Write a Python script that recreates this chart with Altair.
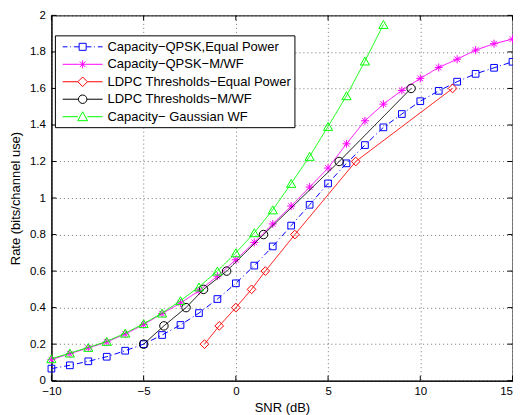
import altair as alt
import pandas as pd

# ---------------- data ----------------
series_names = [
    "Capacity−QPSK,Equal Power",
    "Capacity−QPSK−M/WF",
    "LDPC Thresholds−Equal Power",
    "LDPC Thresholds−M/WF",
    "Capacity− Gaussian WF",
]
series_colors = ["#0000ff", "#ff00ff", "#ff0000", "#000000", "#00ff00"]

snr_qpsk = list(range(-10, 16))
rate_qpsk_eq = [0.066, 0.084, 0.106, 0.131, 0.164, 0.200, 0.250, 0.305, 0.370, 0.447,
                0.533, 0.630, 0.735, 0.849, 0.963, 1.080, 1.190, 1.290, 1.387, 1.460,
                1.530, 1.587, 1.637, 1.680, 1.713, 1.746]
rate_qpsk_mwf = [0.115, 0.148, 0.179, 0.212, 0.255, 0.307, 0.367, 0.425, 0.492, 0.572,
                 0.662, 0.757, 0.858, 0.956, 1.060, 1.164, 1.297, 1.423, 1.514, 1.589,
                 1.655, 1.715, 1.760, 1.810, 1.845, 1.870]

snr_gauss = list(range(-10, 9))
rate_gauss_wf = [0.120, 0.151, 0.182, 0.215, 0.260, 0.312, 0.370, 0.438, 0.513, 0.600,
                 0.700, 0.810, 0.935, 1.080, 1.228, 1.392, 1.560, 1.750, 1.950]

ldpc_rates = [0.2, 0.3, 0.4, 0.5, 0.6, 0.8, 1.2, 1.6]
snr_ldpc_eq = [-1.7, -0.9, 0.0, 0.85, 1.6, 3.2, 6.5, 11.75]
snr_ldpc_mwf = [-5.0, -3.9, -2.7, -1.75, -0.5, 1.5, 5.6, 9.5]

x_ticks = [-10, -5, 0, 5, 10, 15]
y_ticks = [0, 0.2, 0.4, 0.6, 0.8, 1.0, 1.2, 1.4, 1.6, 1.8, 2.0]

# ---------------- table ----------------
rows = []
for s, xs, ys in [
    (series_names[0], snr_qpsk, rate_qpsk_eq),
    (series_names[1], snr_qpsk, rate_qpsk_mwf),
    (series_names[2], snr_ldpc_eq, ldpc_rates),
    (series_names[3], snr_ldpc_mwf, ldpc_rates),
    (series_names[4], snr_gauss, rate_gauss_wf),
]:
    for x, y in zip(xs, ys):
        rows.append({"series": s, "snr": x, "rate": y})
df = pd.DataFrame(rows)

W, H = 462, 366
FONT = "Liberation Sans"

x_scale = alt.Scale(domain=[-10, 15], nice=False, zero=False)
y_scale = alt.Scale(domain=[0, 2], nice=False, zero=False)

x_axis = alt.Axis(
    values=x_ticks, tickCount=30, title="SNR (dB)", grid=True, ticks=False,
    labelFontSize=11.5, labelPadding=5, labelFlush=False,
    labelAlign={"condition": {"test": "datum.value == 15", "value": "right"}, "value": "center"},
    titleFontSize=13, titleFontWeight="normal", titleY=30.5, titleBaseline="alphabetic",
)
y_axis = alt.Axis(
    values=y_ticks, tickCount=30, format="~g", title="Rate (bits/channel use)", grid=True,
    ticks=False, labelFontSize=11.5, labelPadding=6, labelOverlap=False,
    titleFontSize=13, titleFontWeight="normal", titleX=-31.5, titleBaseline="alphabetic",
)

base = alt.Chart(df)

star_path = "M0,-1V1M-1,0H1M-0.7,-0.7L0.7,0.7M-0.7,0.7L0.7,-0.7"
marker_specs = [
    ("square", 45, [6, 3, 1, 3]),
    (star_path, 64, [1, 0]),
    ("diamond", 76, [1, 0]),
    ("circle", 72, [1, 0]),
    ("triangle-up", 84, [1, 0]),
]

data_layers = []
for i, (name, color) in enumerate(zip(series_names, series_colors)):
    shp, sz, dash = marker_specs[i]
    sub = base.transform_filter(alt.datum.series == name)
    enc_x = alt.X("snr:Q", scale=x_scale, axis=x_axis)
    enc_y = alt.Y("rate:Q", scale=y_scale, axis=y_axis)
    data_layers.append(
        sub.mark_line(strokeWidth=1, color=color, strokeDash=dash).encode(x=enc_x, y=enc_y)
    )
    data_layers.append(
        sub.mark_point(shape=shp, size=sz, filled=False, strokeWidth=1, opacity=1, color=color)
        .encode(x=enc_x, y=enc_y)
    )

# inward tick marks on all four sides
xt = pd.DataFrame({"v": x_ticks})
yt = pd.DataFrame({"v": y_ticks})
tick_bottom = alt.Chart(xt).mark_rule(color="black", strokeWidth=1).encode(
    x=alt.X("v:Q", scale=x_scale, axis=x_axis), y=alt.value(H), y2=alt.value(H - 5))
tick_top = alt.Chart(xt).mark_rule(color="black", strokeWidth=1).encode(
    x=alt.X("v:Q", scale=x_scale, axis=x_axis), y=alt.value(0), y2=alt.value(5))
tick_left = alt.Chart(yt).mark_rule(color="black", strokeWidth=1).encode(
    y=alt.Y("v:Q", scale=y_scale, axis=y_axis), x=alt.value(0), x2=alt.value(5))
tick_right = alt.Chart(yt).mark_rule(color="black", strokeWidth=1).encode(
    y=alt.Y("v:Q", scale=y_scale, axis=y_axis), x=alt.value(W), x2=alt.value(W - 5))

# legend layer: symbols = line + marker (symbol unit = 8 px, line spans +-2.5 units)
legend_paths = [
    "M-2.5,0H-1.9M-1.55,0H-1.45M-1.1,0H-0.45M0.45,0H1.1M1.45,0H1.55M1.9,0H2.5"
    "M-0.44,-0.44H0.44V0.44H-0.44Z",
    "M-2.5,0H-0.5M0.5,0H2.5"
    "M0,-0.5V0.5M-0.5,0H0.5M-0.35,-0.35L0.35,0.35M-0.35,0.35L0.35,-0.35",
    "M-2.5,0H-0.6M0.6,0H2.5M0,-0.6L0.6,0L0,0.6L-0.6,0Z",
    "M-2.5,0H-0.53M0.53,0H2.5M0.53,0A0.53,0.53,0,1,1,-0.53,0A0.53,0.53,0,1,1,0.53,0Z",
    "M-2.5,0H-0.6M0.6,0H2.5M0,-0.62L0.62,0.5L-0.62,0.5Z",
]
leg = alt.Legend(
    title=None, orient="none", legendX=3.5, legendY=20,
    symbolSize=256, symbolStrokeWidth=1, rowPadding=1.5,
    padding=3, symbolOffset=16.3, labelOffset=16.4, labelFont=FONT, labelFontSize=13,
    labelLimit=400, strokeColor="black", fillColor="white", cornerRadius=0,
    labelColor="black", symbolOpacity=1,
)
legend_df = pd.DataFrame({"series": series_names})
legend_layer = alt.Chart(legend_df).mark_point(
    filled=False, strokeWidth=1, size=0
).encode(
    color=alt.Color("series:N", scale=alt.Scale(domain=series_names, range=series_colors), legend=leg),
    shape=alt.Shape("series:N", scale=alt.Scale(domain=series_names, range=legend_paths), legend=leg),
    opacity=alt.value(0),
)

chart = alt.layer(
    *data_layers, tick_bottom, tick_top, tick_left, tick_right, legend_layer
).properties(
    width=W, height=H,
    autosize=alt.AutoSizeParams(type="none"),
    padding={"left": 43.5, "top": 7, "right": 0.5, "bottom": 34},
).configure(font=FONT).configure_view(
    stroke="black", strokeWidth=1
).configure_axis(
    domainColor="black", domainWidth=1, labelColor="black", titleColor="black",
    gridColor="#000000", gridOpacity=0.55, gridDash=[1, 3], gridWidth=1,
    labelFont=FONT, titleFont=FONT,
)

chart.save("out.html", embed_options={"renderer": "svg", "actions": False})
